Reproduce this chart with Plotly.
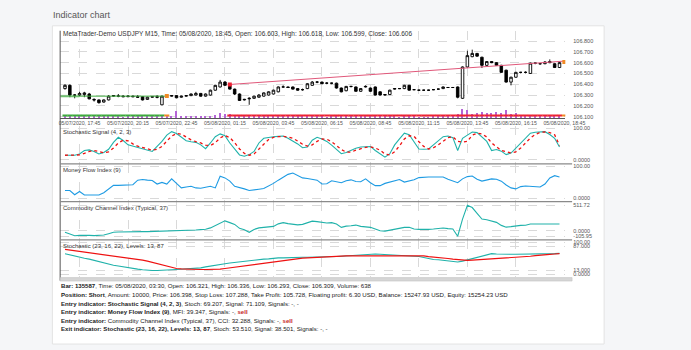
import plotly.graph_objects as go

W, H = 691, 350

# ---------------- data ----------------
tick_index = [4, 14, 24, 34, 44, 54, 64, 74, 84, 94, 104]
tick_labels = ["05/07/2020, 17:45", "05/07/2020, 20:15", "05/07/2020, 22:45",
               "05/08/2020, 01:15", "05/08/2020, 03:45", "05/08/2020, 06:15",
               "05/08/2020, 08:45", "05/08/2020, 11:15", "05/08/2020, 13:45",
               "05/08/2020, 16:15", "05/08/2020, 18:45"]

bars = list(range(1, 104))

opens = [106.36, 106.39, 106.30, 106.30, 106.305, 106.31, 106.26, 106.255, 106.235, 106.255,
         106.29, 106.29, 106.29, 106.285, 106.29, 106.285, 106.285, 106.26, 106.28, 106.285,
         106.21, 106.29, 106.29, 106.295, 106.28, 106.29, 106.295, 106.30, 106.315, 106.29,
         106.30, 106.345, 106.375, 106.42, 106.39, 106.355, 106.31, 106.255, 106.265, 106.27,
         106.28, 106.29, 106.30, 106.31, 106.33, 106.375, 106.375, 106.375, 106.36, 106.35,
         106.36, 106.39, 106.42, 106.42, 106.41, 106.41, 106.41, 106.365, 106.34, 106.38,
         106.375, 106.335, 106.375, 106.365, 106.375, 106.33, 106.30, 106.305, 106.355, 106.36,
         106.36, 106.39, 106.35, 106.345, 106.345, 106.345, 106.35, 106.355, 106.36, 106.37,
         106.37, 106.375, 106.27, 106.56, 106.655, 106.685, 106.65, 106.575, 106.61, 106.60,
         106.575, 106.53, 106.42, 106.465, 106.51, 106.51, 106.50, 106.595, 106.59, 106.59,
         106.61, 106.59, 106.555]
closes = [106.39, 106.30, 106.30, 106.315, 106.32, 106.265, 106.255, 106.23, 106.255, 106.29,
          106.295, 106.29, 106.285, 106.29, 106.285, 106.28, 106.255, 106.28, 106.285, 106.28,
          106.29, 106.29, 106.295, 106.275, 106.29, 106.295, 106.31, 106.315, 106.29, 106.31,
          106.345, 106.39, 106.42, 106.39, 106.355, 106.31, 106.25, 106.26, 106.27, 106.29,
          106.30, 106.32, 106.33, 106.345, 106.375, 106.375, 106.37, 106.355, 106.345, 106.35,
          106.405, 106.42, 106.42, 106.405, 106.41, 106.41, 106.365, 106.33, 106.38, 106.38,
          106.335, 106.36, 106.38, 106.335, 106.30, 106.30, 106.305, 106.345, 106.36, 106.36,
          106.39, 106.345, 106.35, 106.345, 106.345, 106.345, 106.35, 106.355, 106.375, 106.37,
          106.37, 106.28, 106.56, 106.665, 106.685, 106.66, 106.575, 106.61, 106.60, 106.575,
          106.51, 106.42, 106.465, 106.51, 106.51, 106.51, 106.595, 106.595, 106.59, 106.605,
          106.60, 106.555, 106.60]
highs = [106.40, 106.40, 106.31, 106.33, 106.33, 106.32, 106.27, 106.26, 106.26, 106.30,
         106.30, 106.31, 106.30, 106.30, 106.295, 106.30, 106.29, 106.285, 106.29, 106.30,
         106.295, 106.30, 106.30, 106.30, 106.295, 106.30, 106.315, 106.33, 106.32, 106.315,
         106.35, 106.395, 106.44, 106.43, 106.40, 106.36, 106.315, 106.265, 106.28, 106.295,
         106.31, 106.325, 106.335, 106.35, 106.38, 106.39, 106.38, 106.38, 106.365, 106.36,
         106.41, 106.43, 106.43, 106.425, 106.42, 106.415, 106.415, 106.37, 106.385, 106.385,
         106.38, 106.365, 106.39, 106.37, 106.38, 106.335, 106.31, 106.35, 106.365, 106.365,
         106.395, 106.395, 106.355, 106.35, 106.35, 106.35, 106.355, 106.36, 106.38, 106.375,
         106.375, 106.38, 106.565, 106.71, 106.72, 106.69, 106.655, 106.615, 106.615, 106.605,
         106.58, 106.535, 106.47, 106.515, 106.515, 106.52, 106.60, 106.60, 106.595, 106.615,
         106.63, 106.595, 106.605]
lows = [106.35, 106.28, 106.27, 106.29, 106.28, 106.26, 106.24, 106.22, 106.23, 106.25,
        106.285, 106.28, 106.28, 106.28, 106.28, 106.275, 106.25, 106.255, 106.275, 106.27,
        106.205, 106.28, 106.285, 106.27, 106.275, 106.285, 106.29, 106.295, 106.285, 106.285,
        106.295, 106.34, 106.37, 106.385, 106.35, 106.30, 106.245, 106.25, 106.21, 106.265,
        106.275, 106.285, 106.295, 106.305, 106.325, 106.37, 106.365, 106.35, 106.34, 106.34,
        106.355, 106.385, 106.41, 106.40, 106.40, 106.40, 106.36, 106.325, 106.335, 106.37,
        106.33, 106.33, 106.37, 106.33, 106.295, 106.295, 106.295, 106.30, 106.35, 106.355,
        106.355, 106.34, 106.345, 106.34, 106.34, 106.34, 106.345, 106.35, 106.355, 106.365,
        106.365, 106.27, 106.265, 106.555, 106.65, 106.655, 106.55, 106.57, 106.595, 106.57,
        106.505, 106.415, 106.39, 106.46, 106.50, 106.50, 106.495, 106.585, 106.58, 106.585,
        106.595, 106.55, 106.55]
volumes = [300, 320, 280, 300, 200, 250, 220, 200, 180, 220, 200, 180, 170, 200, 190, 180, 220, 200, 190, 210,
           260, 230, 200, 700, 250, 200, 180, 190, 200, 220, 250, 280, 500, 420, 380, 300, 350, 280, 250, 230,
           220, 210, 200, 220, 230, 210, 200, 190, 180, 200, 220, 210, 190, 180, 170, 200, 230, 220, 200, 180,
           200, 190, 180, 200, 220, 250, 200, 190, 180, 170, 190, 200, 180, 170, 160, 170, 180, 190, 200, 220,
           300, 420, 950, 820, 420, 520, 600, 500, 520, 600, 520, 800, 420, 480, 320, 300, 250, 230, 220, 210,
           200, 230, 250]

# position state per bar: L = long (green), C = close (orange), S = short (red), '' = flat
position_bars = list(range(1, 105))
position_state = (["L"] * 21 + ["C"] + [""] * 12 + ["S"] * 69 + ["C"])

long_x, long_y = [0, 22], [106.29, 106.29]
short_x, short_y = [35, 104], [106.398, 106.614]
mark_x = [22, 35, 104]
mark_y = [106.292, 106.397, 106.607]
mark_kind = ["C", "S", "C"]

stoch_fast = [14, 13, 14, 18, 29, 31, 26, 18, 23, 33, 55, 71, 61, 47, 43, 40, 35, 30, 26, 42,
              58, 78, 89, 83, 72, 60, 57, 55, 47, 35, 53, 73, 82, 76, 53, 33, 15, 11, 16, 26,
              53, 68, 71, 73, 74, 75, 68, 60, 50, 38, 40, 62, 71, 66, 58, 46, 31, 19, 23, 30,
              36, 40, 41, 42, 29, 18, 8, 19, 47, 66, 84, 79, 58, 34, 33, 34, 47, 61, 73, 75,
              70, 29, 68, 78, 88, 86, 72, 58, 29, 32, 27, 16, 21, 37, 53, 69, 84, 87, 89, 89,
              80, 68, 40]
stoch_signal = [14, 14, 14, 15, 20, 26, 29, 25, 22, 25, 37, 53, 62, 60, 50, 43, 39, 35, 30, 33,
                42, 59, 75, 83, 81, 72, 63, 57, 53, 46, 45, 54, 69, 77, 70, 54, 34, 20, 14, 18,
                32, 49, 64, 71, 73, 74, 72, 68, 59, 49, 43, 47, 58, 66, 65, 57, 45, 32, 24, 24,
                30, 35, 39, 41, 37, 30, 18, 15, 25, 44, 66, 76, 74, 57, 42, 34, 38, 47, 60, 70,
                73, 58, 56, 58, 78, 84, 82, 72, 53, 40, 29, 25, 21, 25, 37, 53, 69, 80, 87, 88,
                86, 79, 45]
mfi = [25, 25, 12, 22, 11, 11, 11, 11, 18, 30, 41, 41, 41, 42, 43, 57, 59, 57, 56, 45,
       50, 45, 61, 47, 33, 36, 38, 33, 32, 35, 38, 33, 69, 64, 54, 38, 35, 30, 25, 28,
       29, 31, 38, 47, 57, 67, 75, 79, 72, 64, 62, 59, 57, 45, 46, 55, 53, 49, 55, 58,
       53, 52, 61, 49, 40, 40, 47, 51, 54, 59, 51, 54, 58, 65, 67, 67, 67, 67, 67, 60,
       54, 49, 61, 68, 70, 60, 54, 58, 61, 60, 54, 42, 33, 30, 37, 39, 38, 35, 36, 45,
       64, 71, 67]
cci = [-28, -61, -95, -88, -81, -88, -94, -88, -81, -55, -28, -22, -18, -15, -15, -15, -15, -14, -12, -10,
       -8, -2, 4, 4, 8, 15, 18, 18, 25, 32, 60, 110, 160, 200, 165, 130, 51, 25, -28, 30,
       60, 71, 71, 90, 140, 165, 145, 130, 120, 130, 160, 195, 185, 165, 158, 165, 136, 71, 95, 103,
       116, 90, 80, 71, 37, 4, -5, 15, 40, 57, 71, 71, 37, 30, 24, 30, 37, 45, 57, 45,
       37, -105.95, 235, 511.72, 465, 350, 235, 222, 203, 170, 110, 75, 85, 103, 110, 114, 136, 136, 136, 125,
       130, 136, 136]
exit_stoch = [64, 60, 57, 53, 50, 47, 43, 40, 36, 32, 28, 26, 23, 21, 18, 16, 14, 12, 12, 12,
              12, 13, 14, 15, 16, 16, 17, 18, 20, 23, 26, 28, 31, 33, 35, 37, 39, 40, 42, 44,
              46, 47, 48, 50, 51, 51, 52, 52, 52, 53, 53, 53, 54, 54, 54, 54, 55, 56, 57, 58,
              59, 61, 62, 64, 63, 62, 61, 60, 59, 58, 58, 57, 57, 55, 52, 48, 46, 45, 43, 41,
              40, 38, 41, 45, 49, 53, 56, 60, 64, 63, 62, 62, 62, 62, 62, 62, 63, 64, 64, 64,
              64, 64, 65]
exit_signal = [77, 75, 73, 72, 70, 68, 66, 64, 62, 60, 58, 56, 54, 52, 49, 47, 44, 41, 37, 33,
               29, 25, 21, 18, 17, 16, 16, 15, 15, 15, 15, 15, 16, 18, 20, 23, 26, 28, 30, 32,
               34, 35, 37, 39, 41, 43, 45, 47, 49, 50, 51, 52, 53, 54, 55, 55, 56, 57, 57, 57,
               57, 57, 58, 58, 58, 58, 58, 58, 58, 58, 58, 58, 58, 58, 57, 55, 54, 53, 51, 49,
               47, 45, 44, 43, 44, 45, 45, 46, 46, 47, 48, 49, 50, 51, 52, 54, 56, 58, 60, 61,
               62, 63, 64]

main_title = ("MetaTrader-Demo USDJPY M15, Time: 05/08/2020, 18:45, Open: 106.603, "
              "High: 106.618, Low: 106.599, Close: 106.606")
panel_titles = ["Stochastic Signal (4, 2, 3)", "Money Flow Index (9)",
                "Commodity Channel Index (Typical, 37)", "Stochastic (23, 16, 22), Levels: 13, 87"]
info_lines = [
    "<b>Bar: 135587</b>, Time: 05/08/2020, 03:30, Open: 106.321, High: 106.336, Low: 106.293, Close: 106.309, Volume: 638",
    "<b>Position: Short</b>, Amount: 10000, Price: 106.398, Stop Loss: 107.288, Take Profit: 105.728, Floating profit: 6.30 USD, Balance: 15247.93 USD, Equity: 15254.23 USD",
    "<b>Entry indicator: Stochastic Signal (4, 2, 3)</b>, Stoch: 69.207, Signal: 71.109, Signals: -, -",
    "<b>Entry indicator: Money Flow Index (9)</b>, MFI: 39.347, Signals: -, <b><span style='color:#c62828'>sell</span></b>",
    "<b>Entry indicator:</b> Commodity Channel Index (Typical, 37), CCI: 32.288, Signals: -, <b><span style='color:#c62828'>sell</span></b>",
    "<b>Exit indicator: Stochastic (23, 16, 22), Levels: 13, 87</b>, Stoch: 53.510, Signal: 38.501, Signals: -, -",
]

# ---------------- styling helpers ----------------
FONT = "Liberation Sans, Arial, sans-serif"
TEAL = "#20b2aa"
RED = "#ee1111"
BLUE = "#1e9be3"
state_color = {"L": "#3daa3d", "C": "#f08a24", "S": "#ee2233", "": "rgba(0,0,0,0)"}


def px(x):
    return x / W


def py(y):
    return 1 - y / H


X0, X1 = 61, 582
doms = {
    "main": (118, 30),
    "stoch": (164, 126),
    "mfi": (202.3, 164.5),
    "cci": (241, 202.5),
    "exit": (278, 241.3),
}

fig = go.Figure()

# ----- main price panel -----
fig.add_trace(go.Bar(x=bars, y=volumes, width=0.22, marker=dict(color="#b565d6", line=dict(width=0)),
                     xaxis="x", yaxis="y2", hoverinfo="skip"))
fig.add_trace(go.Scatter(x=position_bars, y=[250] * len(position_bars), mode="markers",
                         marker=dict(symbol="line-ew", size=3.6,
                                     line=dict(width=2, color=[state_color[s] for s in position_state])),
                         xaxis="x", yaxis="y2", hoverinfo="skip"))
fig.add_trace(go.Scatter(x=[0, 4], y=long_y, mode="lines", line=dict(color="rgba(60,170,60,0.25)", width=3),
                         xaxis="x", yaxis="y", hoverinfo="skip"))
fig.add_trace(go.Scatter(x=long_x, y=long_y, mode="lines", line=dict(color="#3daa3d", width=1),
                         xaxis="x", yaxis="y", hoverinfo="skip"))
fig.add_trace(go.Scatter(x=short_x, y=short_y, mode="lines", line=dict(color="#e0587a", width=1),
                         xaxis="x", yaxis="y", hoverinfo="skip"))
fig.add_trace(go.Candlestick(x=bars, open=opens, high=highs, low=lows, close=closes,
                             increasing=dict(line=dict(color="#000000", width=0.9), fillcolor="#ffffff"),
                             decreasing=dict(line=dict(color="#000000", width=0.9), fillcolor="#000000"),
                             whiskerwidth=0, xaxis="x", yaxis="y", hoverinfo="skip"))
fig.add_trace(go.Scatter(x=mark_x, y=mark_y, mode="markers",
                         marker=dict(symbol="square", size=4, color=[state_color[k] for k in mark_kind],
                                     line=dict(width=0)),
                         xaxis="x", yaxis="y", hoverinfo="skip"))

# ----- indicator panels -----
fig.add_trace(go.Scatter(x=bars, y=stoch_fast, mode="lines", line=dict(color=TEAL, width=1.1),
                         xaxis="x", yaxis="y3", hoverinfo="skip"))
fig.add_trace(go.Scatter(x=bars, y=stoch_signal, mode="lines", line=dict(color=RED, width=1.3, dash="dot"),
                         xaxis="x", yaxis="y3", hoverinfo="skip"))
fig.add_trace(go.Scatter(x=bars, y=mfi, mode="lines", line=dict(color=BLUE, width=1.1),
                         xaxis="x", yaxis="y4", hoverinfo="skip"))
fig.add_trace(go.Scatter(x=bars, y=cci, mode="lines", line=dict(color=TEAL, width=1.1),
                         xaxis="x", yaxis="y5", hoverinfo="skip"))
fig.add_trace(go.Scatter(x=bars, y=exit_stoch, mode="lines", line=dict(color=TEAL, width=1.1),
                         xaxis="x", yaxis="y6", hoverinfo="skip"))
fig.add_trace(go.Scatter(x=bars, y=exit_signal, mode="lines", line=dict(color=RED, width=1.2),
                         xaxis="x", yaxis="y6", hoverinfo="skip"))

tickfont = dict(family=FONT, size=5.5, color="#555555")
xtickfont = dict(family=FONT, size=5.2, color="#555555")
grid = dict(showgrid=True, gridcolor="#d9d9d9", gridwidth=1, griddash="dash", zeroline=False)


def yax(dom, rng, **kw):
    d = dict(domain=[py(dom[0]), py(dom[1])], range=rng, anchor="x", side="right",
             ticks="", ticklabelstandoff=7, tickfont=tickfont, showline=False, fixedrange=True, **grid)
    d.update(kw)
    return d


fig.update_layout(
    width=W, height=H, margin=dict(l=0, r=0, t=0, b=0),
    paper_bgcolor="#f5f6f8", plot_bgcolor="rgba(0,0,0,0)",
    showlegend=False, hovermode=False, bargap=0, boxgap=0.25,
    font=dict(family=FONT, color="#333333"),
    xaxis=dict(domain=[px(X0), px(X1)], range=[0, 104.2], anchor="y",
               tickvals=tick_index, ticktext=tick_labels, tickfont=xtickfont, ticks="",
               showline=True, linecolor="#555555", linewidth=1, rangeslider=dict(visible=False),
               fixedrange=True, **grid),
    yaxis=yax(doms["main"], [106.088, 106.895], tick0=106.1, dtick=0.1, tickformat=".3f"),
    yaxis2=dict(overlaying="y", range=[0, 8800], visible=False, showgrid=False, fixedrange=True),
    yaxis3=yax(doms["stoch"], [-12.6, 107.3], tickvals=[0, 100], ticktext=["0.0000", "100.00"]),
    yaxis4=yax(doms["mfi"], [-9.3, 106.8], tickvals=[0, 100], ticktext=["0.0000", "100.00"]),
    yaxis5=yax(doms["cci"], [-179.5, 580], tickvals=[-105.95, 0, 511.72],
               ticktext=["-105.95", "0.0000", "511.72"]),
    yaxis6=yax(doms["exit"], [-7.1, 105.6], tickvals=[0, 13, 87, 100],
               ticktext=["0.0000", "13.000", "87.000", "100.00"]),
)

shapes = [
    # card
    dict(type="rect", xref="paper", yref="paper", x0=px(53), x1=px(622), y0=py(346), y1=py(25),
         fillcolor="#ffffff", line=dict(color="#e3e3e3", width=1), layer="below"),
    # left frame
    dict(type="line", xref="paper", yref="paper", x0=px(61), x1=px(61), y0=py(282), y1=py(30),
         line=dict(color="#555555", width=1)),
    # scrollbar
    dict(type="rect", xref="paper", yref="paper", x0=px(61), x1=px(589), y0=py(282.5), y1=py(279),
         fillcolor="#d6d6d6", line=dict(color="#bdbdbd", width=0.5)),
]
for ysep in (164.3, 202.3, 241):
    shapes.append(dict(type="line", xref="paper", yref="paper", x0=px(61), x1=px(589),
                       y0=py(ysep), y1=py(ysep), line=dict(color="#8a8a8a", width=1.2)))
fig.update_layout(shapes=shapes)

ann = [dict(text="Indicator chart", x=px(52), y=py(14), xref="paper", yref="paper",
            xanchor="left", yanchor="middle", showarrow=False,
            font=dict(family=FONT, size=9, color="#555555")),
       dict(text=main_title, x=px(62), y=py(33), xref="paper", yref="paper",
            xanchor="left", yanchor="middle", showarrow=False,
            font=dict(family=FONT, size=6.5, color="#333333"))]
for t, yy in zip(panel_titles, (131.7, 170, 208.3, 246.7)):
    ann.append(dict(text=t, x=px(62), y=py(yy), xref="paper", yref="paper",
                    xanchor="left", yanchor="middle", showarrow=False,
                    font=dict(family=FONT, size=6.0, color="#333333")))
for k, line in enumerate(info_lines):
    ann.append(dict(text=line, x=px(60), y=py(287.4 + 8.68 * k), xref="paper", yref="paper",
                    xanchor="left", yanchor="middle", showarrow=False,
                    font=dict(family=FONT, size=6.1, color="#222222")))
fig.update_layout(annotations=ann)

fig.write_html("out.html")
